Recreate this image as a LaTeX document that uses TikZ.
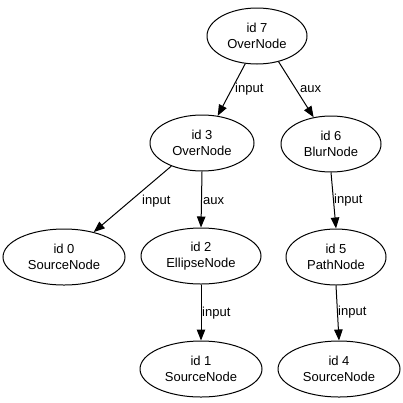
\documentclass[tikz,border=0pt]{standalone}
\usepackage{fontspec}
\setmainfont{Liberation Sans}
\usetikzlibrary{shapes.geometric,arrows.meta}
\tikzset{
  gnode/.style={ellipse,draw,line width=1pt,inner sep=0pt,minimum height=56pt,align=center,font=\fontsize{13}{16.5}\selectfont},
  lbl/.style={anchor=west,inner sep=0pt,font=\fontsize{13}{16}\selectfont},
  conn/.style={draw,line width=1pt,-{Triangle[length=11pt,width=8.5pt]}}
}
\begin{document}
\begin{tikzpicture}[x=1pt,y=-1pt]
\useasboundingbox[fill=white] (0,0) rectangle (403,402);
\node[gnode,minimum width=100pt] (n7) at (257,36) {id 7\\OverNode};
\node[gnode,minimum width=104pt] (n3) at (202,143) {id 3\\OverNode};
\node[gnode,minimum width=100pt] (n6) at (331,144) {id 6\\BlurNode};
\node[gnode,minimum width=122pt] (n0) at (64,257) {id 0\\SourceNode};
\node[gnode,minimum width=120pt] (n2) at (201,256) {id 2\\EllipseNode};
\node[gnode,minimum width=100pt] (n5) at (336,257) {id 5\\PathNode};
\node[gnode,minimum width=122pt] (n1) at (201,369) {id 1\\SourceNode};
\node[gnode,minimum width=122pt] (n4) at (339,369) {id 4\\SourceNode};
\path[conn] (n7.-113) -- (n3.60);
\path[conn] (n7.-50) -- (n6.123);
\path[conn] (n3.-143) -- (n0.40);
\path[conn] (n3.south) -- (n2.north);
\path[conn] (n6.south) -- (n5.north);
\path[conn] (n2.south) -- (n1.north);
\path[conn] (n5.south) -- (n4.north);
\node[lbl] (l73) at (235,89) {input};
\node[lbl] (l76) at (300,89) {aux};
\node[lbl] (l30) at (142,201) {input};
\node[lbl] (l32) at (203,201) {aux};
\node[lbl] (l65) at (334,200) {input};
\node[lbl] (l21) at (202,313) {input};
\node[lbl] (l54) at (338,312) {input};
\end{tikzpicture}
\end{document}
